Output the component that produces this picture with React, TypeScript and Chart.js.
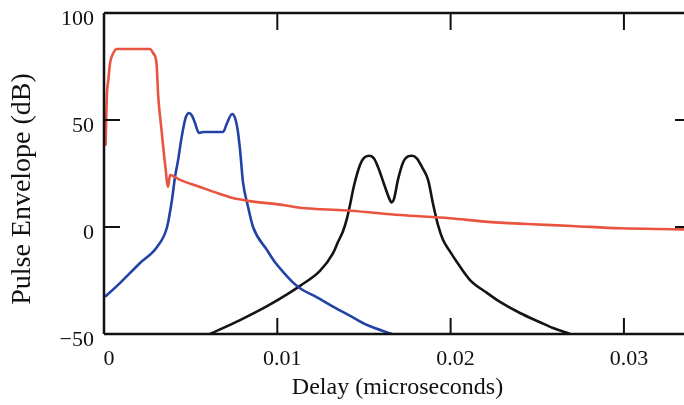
import { useEffect, useRef } from "react";
import { Chart, registerables } from "chart.js";

Chart.register(...registerables);

const xTickValues = [0, 0.01, 0.02, 0.03];
const xTickLabels = ["0", "0.01", "0.02", "0.03"];
const yTickValues = [-50, 0, 50, 100];
const yTickLabels = ["\u221250", "0", "50", "100"];
const xTitle = "Delay (microseconds)";
const yTitle = "Pulse Envelope (dB)";

const redDelay = [0.00009, 0.00016, 0.00025, 0.00035, 0.00054, 0.00073, 0.00265, 0.00284, 0.00303, 0.00313, 0.00332, 0.00352, 0.00370, 0.00381, 0.00439, 0.00554, 0.00652, 0.00744, 0.00842, 0.01033, 0.01131, 0.01229, 0.01420, 0.01708, 0.01997, 0.02198, 0.02441, 0.02701, 0.02978, 0.03347, 0.03387];
const redLevel = [38, 60.8, 68.7, 76.6, 81.3, 83.2, 83.2, 81.2, 76.5, 60.9, 45.3, 29.7, 18.8, 24.3, 22, 18.7, 15.9, 13.5, 12.1, 10.3, 9.0, 8.4, 7.6, 5.6, 4.1, 2.5, 1.4, 0.5, -0.6, -1.1, -1.2];

const blueDelay = [0.00006, 0.00092, 0.00208, 0.00306, 0.00364, 0.00392, 0.00410, 0.00427, 0.00444, 0.00462, 0.00473, 0.00490, 0.00508, 0.00525, 0.00548, 0.00571, 0.00687, 0.00710, 0.00739, 0.00756, 0.00770, 0.00785, 0.00802, 0.00831, 0.00860, 0.00941, 0.00987, 0.01033, 0.01085, 0.01131, 0.01229, 0.01321, 0.01420, 0.01518, 0.01662];
const blueLevel = [-32.6, -26.2, -16.8, -9.3, 0, 12.6, 23.5, 31, 40, 48, 51.5, 53.3, 52, 48.6, 44, 44.4, 44.4, 48.6, 52.8, 51, 46, 36, 21, 9.5, 0, -10.8, -16.5, -21, -25.5, -28.6, -32.9, -37.2, -41.5, -45.8, -50];

const blackDelay = [0.00612, 0.00785, 0.00941, 0.01056, 0.01131, 0.01246, 0.01321, 0.01350, 0.01379, 0.01402, 0.01420, 0.01443, 0.01477, 0.01500, 0.01529, 0.01558, 0.01581, 0.01616, 0.01645, 0.01659, 0.01673, 0.01696, 0.01725, 0.01754, 0.01777, 0.01806, 0.01835, 0.01870, 0.01898, 0.01927, 0.01956, 0.01997, 0.02037, 0.02112, 0.02210, 0.02285, 0.02400, 0.02516, 0.02591, 0.02689];
const blackLevel = [-50, -43.5, -37, -31.5, -27.5, -20.5, -12.3, -7, -2, 4, 10.5, 19.5, 29, 32.3, 33.3, 32, 28, 20, 13.5, 11.5, 13, 22, 30, 33, 33.3, 32, 28, 22, 11, 1, -6, -11.5, -16.5, -24.8, -30.8, -35, -40.2, -44.5, -47.2, -50];

const toPoints = (xs: number[], ys: number[]) => xs.map((x, i) => ({ x, y: ys[i] }));

const framePlugin = {
  id: "frame",
  afterDraw(chart: any) {
    const { ctx, chartArea } = chart;
    const { left, right, top, bottom } = chartArea;
    const xs = chart.scales.x;
    const ys = chart.scales.y;
    ctx.save();
    ctx.strokeStyle = "#111";
    ctx.lineWidth = 2.5;
    ctx.lineCap = "butt";
    ctx.beginPath();
    ctx.moveTo(left, top);
    ctx.lineTo(right, top);
    ctx.moveTo(left, top);
    ctx.lineTo(left, bottom);
    ctx.moveTo(left, bottom);
    ctx.lineTo(right, bottom);
    ctx.moveTo(right, top);
    ctx.lineTo(right, bottom);
    ctx.stroke();
    ctx.lineWidth = 2;
    ctx.beginPath();
    xTickValues.forEach((v) => {
      if (v === xs.min) return;
      const px = xs.getPixelForValue(v);
      ctx.moveTo(px, bottom);
      ctx.lineTo(px, bottom - 16);
      ctx.moveTo(px, top);
      ctx.lineTo(px, top + 17);
    });
    yTickValues.forEach((v) => {
      if (v === ys.min || v === ys.max) return;
      const py = ys.getPixelForValue(v);
      ctx.moveTo(left, py);
      ctx.lineTo(left + 16, py);
      ctx.moveTo(right, py);
      ctx.lineTo(right - 16, py);
    });
    ctx.stroke();
    // y axis title
    ctx.translate(23, 189);
    ctx.rotate(-Math.PI / 2);
    ctx.fillStyle = "#111";
    ctx.font = '28px "Liberation Serif"';
    ctx.textAlign = "center";
    ctx.textBaseline = "middle";
    ctx.fillText(yTitle, 0, 0);
    ctx.restore();
  },
};

export default function App() {
  const ref = useRef<HTMLCanvasElement | null>(null);
  useEffect(() => {
    if (!ref.current) return;
    const chart = new Chart(ref.current, {
      type: "line",
      data: {
        datasets: [
          { data: toPoints(redDelay, redLevel), borderColor: "#e8543f", borderWidth: 2.6, pointRadius: 0, cubicInterpolationMode: "monotone" },
          { data: toPoints(blueDelay, blueLevel), borderColor: "#2342a6", borderWidth: 2.6, pointRadius: 0, cubicInterpolationMode: "monotone" },
          { data: toPoints(blackDelay, blackLevel), borderColor: "#141414", borderWidth: 2.6, pointRadius: 0, cubicInterpolationMode: "monotone" },
        ],
      },
      options: {
        responsive: false,
        animation: false,
        devicePixelRatio: 1,
        layout: { padding: { top: 13, right: 1, left: 0, bottom: 0 } },
        plugins: { legend: { display: false }, tooltip: { enabled: false } },
        scales: {
          x: {
            type: "linear",
            min: 0,
            max: 0.03387,
            afterFit: (s: any) => { s.height = 71; s.paddingLeft = 0; s.paddingRight = 0; },
            afterBuildTicks: (s: any) => { s.ticks = xTickValues.map((v) => ({ value: v })); },
            grid: { display: false, drawTicks: false },
            border: { display: false },
            ticks: {
              padding: 12,
              labelOffset: 5,
              maxRotation: 0,
              autoSkip: false,
              color: "#111",
              font: { family: '"Liberation Serif"', size: 22 },
              callback: (_v: any, i: number) => xTickLabels[i],
            },
            title: {
              display: true,
              text: xTitle,
              color: "#111",
              font: { family: '"Liberation Serif"', size: 24 },
              padding: { top: 0, bottom: 3 },
            },
          },
          y: {
            type: "linear",
            min: -50,
            max: 100,
            afterFit: (s: any) => { s.width = 104; s.paddingTop = 0; s.paddingBottom = 0; },
            afterBuildTicks: (s: any) => { s.ticks = yTickValues.map((v) => ({ value: v })); },
            grid: { display: false, drawTicks: false },
            border: { display: false },
            ticks: {
              padding: 10,
              labelOffset: 6,
              autoSkip: false,
              color: "#111",
              font: { family: '"Liberation Serif"', size: 22 },
              callback: (_v: any, i: number) => yTickLabels[i],
            },
          },
        },
      },
      plugins: [framePlugin],
    } as any);
    return () => chart.destroy();
  }, []);
  return (
    <div style={{ position: "fixed", left: 0, top: 0, width: 684, height: 405, overflow: "hidden", background: "#fff" }}>
      <canvas ref={ref} width={692} height={405} style={{ display: "block", width: 692, height: 405 }} />
    </div>
  );
}
